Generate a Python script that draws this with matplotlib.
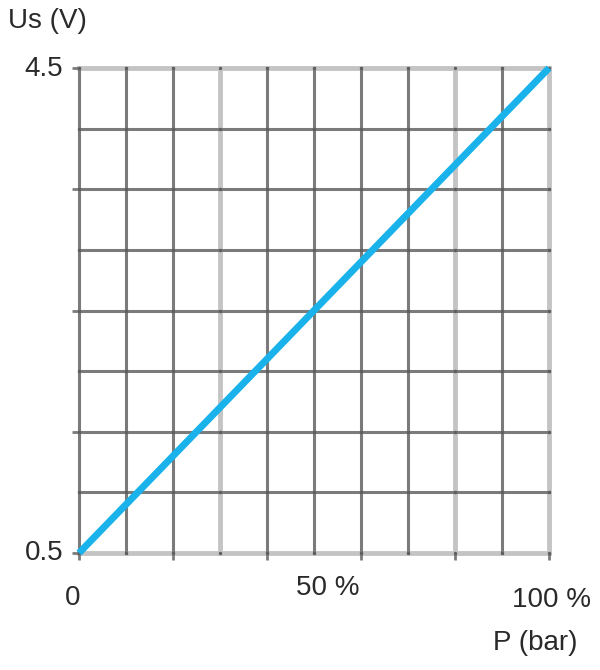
import numpy as np
import matplotlib.pyplot as plt

# -- data
p_pct = [0, 100]          # pressure, % of range
us_volt = [0.5, 4.5]      # output voltage

x_grid = [0, 10, 20, 30, 40, 50, 60, 70, 80, 90, 100]
y_grid = [0.5, 1.0, 1.5, 2.0, 2.5, 3.0, 3.5, 4.0, 4.5]
x_light = [30, 80, 100]
y_light = [0.5, 4.5]
x_ticks = [0, 20, 40, 60, 80, 100]
y_ticks = [0.5, 1.5, 2.5, 3.5, 4.5]

dark = '#7b7b7b'
light = '#c4c4c4'
txt = '#2a2a2a'

fig = plt.figure(figsize=[6, 6.7], dpi=100)
fig.patch.set_facecolor('white')
W, H = 600, 670
ax = fig.add_axes([79 / W, 1 - 553 / H, 470 / W, 485 / H])
ax.set_xlim(0, 100)
ax.set_ylim(0.5, 4.5)
for s in ax.spines.values():
    s.set_visible(False)

# -- grid
for x in x_grid:
    if x in x_light:
        ax.axvline(x, color=light, lw=3.5, zorder=1, clip_on=False)
    else:
        ax.axvline(x, color=dark, lw=2.2, zorder=2, clip_on=False)
for y in y_grid:
    if y in y_light:
        ax.axhline(y, color=light, lw=3.5, zorder=1, clip_on=False)
    else:
        ax.axhline(y, color=dark, lw=2.2, zorder=2, clip_on=False)

gx, gy = np.meshgrid(x_grid, y_grid)
ax.scatter(gx.ravel(), gy.ravel(), s=6, color='#5e5e5e', zorder=3, clip_on=False, lw=0)

ax.set_xticks(x_ticks)
ax.set_yticks(y_ticks)
ax.set_xticklabels([])
ax.set_yticklabels([])
ax.tick_params(axis='both', length=5, width=2, color=dark, direction='out')

# -- characteristic line
ax.plot(p_pct, us_volt, color='#19b2ea', lw=5, solid_capstyle='butt', zorder=4, clip_on=False)

# -- labels (figure pixel coords)
def ftext(px, py, s, ha='center', va='center'):
    fig.text(px / W, 1 - py / H, s, ha=ha, va=va, color=txt,
             fontsize=20, family='Liberation Sans')

ftext(8, 21, 'Us (V)', ha='left')
ftext(63, 69, '4.5', ha='right')
ftext(63, 553, '0.5', ha='right')
ftext(73, 598, '0')
ftext(328, 588, '50 %')
ftext(552, 600, '100 %')
ftext(535, 643, 'P (bar)')

plt.savefig('out.png', dpi=100, facecolor='white')
